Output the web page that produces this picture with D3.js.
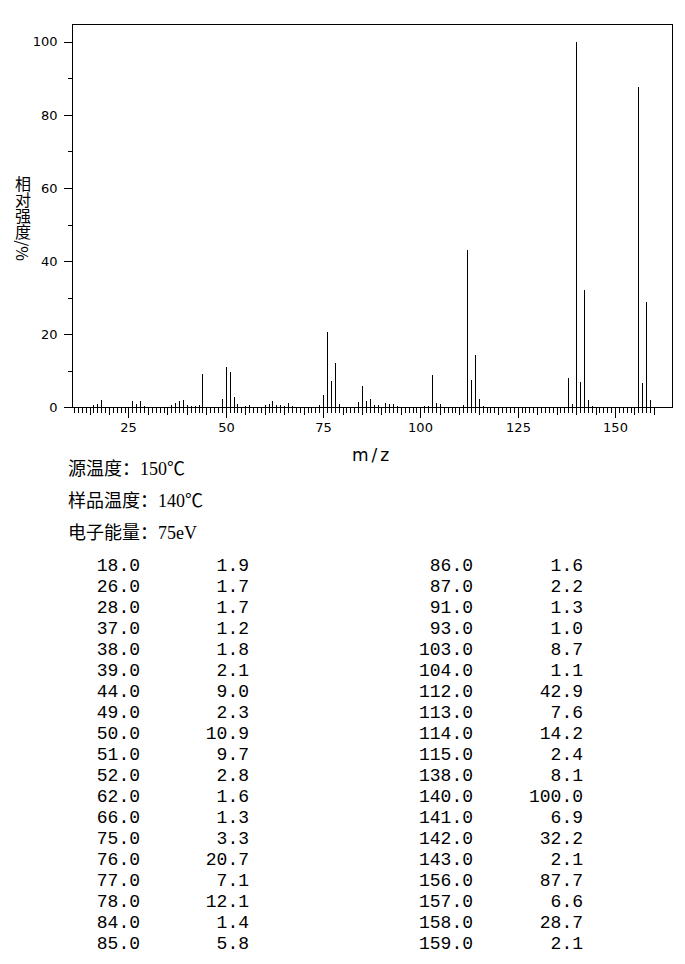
<!DOCTYPE html>
<html>
<head>
<meta charset="utf-8">
<script src="https://cdn.jsdelivr.net/npm/d3@7/dist/d3.min.js"></script>
<style>
  html, body { margin: 0; padding: 0; background: #fff; }
  svg { display: block; }
  .ytitle { writing-mode: vertical-rl; text-orientation: mixed; font-family: 'Noto Sans CJK SC'; font-size: 16px; line-height: 18px; color: #000; margin: 0; padding: 0; white-space: nowrap; }
</style>
</head>
<body>
<div id="chart"></div>
<script>
// ---- Data ----
// Listed peaks (m/z, relative intensity %) from the table
const tableMz = [18,26,28,37,38,39,44,49,50,51,52,62,66,75,76,77,78,84,85,
                 86,87,91,93,103,104,112,113,114,115,138,140,141,142,143,156,157,158,159];
const tableIntensity = [1.9,1.7,1.7,1.2,1.8,2.1,9.0,2.3,10.9,9.7,2.8,1.6,1.3,3.3,20.7,7.1,12.1,1.4,5.8,
                 1.6,2.2,1.3,1.0,8.7,1.1,42.9,7.6,14.2,2.4,8.1,100.0,6.9,32.2,2.1,87.7,6.6,28.7,2.1];
// Minor peaks visible in the plot but below the table threshold (estimated)
const minorMz = [16,17,27,29,36,40,41,42,43,53,55,56,60,61,63,64,65,67,74,79,88,89,92,94,101,102,105,111,116,139,144];
const minorIntensity = [0.6,0.8,0.9,0.3,0.6,0.7,0.4,0.3,0.7,0.9,0.4,0.5,0.5,0.8,0.7,0.6,0.4,0.4,0.6,0.8,0.7,0.6,0.9,0.3,0.3,0.4,0.9,0.5,0.4,0.9,0.4];

const yTicks = [0,20,40,60,80,100];
const yMinorTicks = [10,30,50,70,90];
const xTickLabels = [25,50,75,100,125,150];
const infoLines = ["源温度：150℃", "样品温度：140℃", "电子能量：75eV"];
const yTitle = "相对强度/%";

// ---- Layout ----
const W = 685, H = 964;
const svg = d3.select("#chart").append("svg").attr("width", W).attr("height", H);

const plot = {left: 71.5, right: 672, top: 23.5, bottom: 407.3};
const x = d3.scaleLinear().domain([10.36, 164.65]).range([plot.left, plot.right]);
const y = d3.scaleLinear().domain([0, 105]).range([plot.bottom, plot.top]);
const px = v => Math.round(x(v)) + 0.5;
const py = v => Math.round(y(v)) + 0.5;

const g = svg.append("g").attr("shape-rendering", "crispEdges");

// peaks
const peaks = tableMz.map((m, i) => ({mz: m, v: tableIntensity[i]}))
  .concat(minorMz.map((m, i) => ({mz: m, v: minorIntensity[i]})));
g.selectAll("line.peak").data(peaks).enter().append("line")
  .attr("class", "peak")
  .attr("x1", d => px(d.mz)).attr("x2", d => px(d.mz))
  .attr("y1", py(0)).attr("y2", d => Math.round(y(d.v)))
  .attr("stroke", "#000").attr("stroke-width", 1);

// frame
g.append("rect")
  .attr("x", Math.round(plot.left) + 0.5).attr("y", Math.round(plot.top) + 0.5)
  .attr("width", Math.round(plot.right) - Math.round(plot.left))
  .attr("height", py(0) - Math.round(plot.top) - 0.5)
  .attr("fill", "none").attr("stroke", "#000").attr("stroke-width", 1);

// y axis ticks
const yAxis = d3.axisLeft(y).tickValues(yTicks).tickSize(9).tickSizeOuter(0).tickFormat(d3.format("d"));
const yAx = svg.append("g").attr("transform", `translate(${Math.round(plot.left) + 0.5},0)`).call(yAxis);
yAx.select(".domain").remove();
yAx.selectAll(".tick line").attr("shape-rendering", "crispEdges");
yAx.selectAll("text").attr("font-family", "DejaVu Sans").attr("font-size", 13).attr("fill", "#000").attr("x", -15);
const yMinor = d3.axisLeft(y).tickValues(yMinorTicks).tickSize(5).tickSizeOuter(0).tickFormat("");
const yMi = svg.append("g").attr("transform", `translate(${Math.round(plot.left) + 0.5},0)`).call(yMinor);
yMi.select(".domain").remove();
yMi.selectAll(".tick line").attr("shape-rendering", "crispEdges");

// x axis ticks: unit ticks, 5-unit ticks, labelled 25-unit ticks
const unitTicks = d3.range(11, 161).filter(v => v % 5 !== 0);
const fiveTicks = d3.range(15, 161, 5).filter(v => v % 25 !== 0);
const baseY = py(0);
const xa1 = svg.append("g").attr("transform", `translate(0,${baseY})`)
  .call(d3.axisBottom(x).tickValues(unitTicks).tickSize(5).tickSizeOuter(0).tickFormat(""));
const xa2 = svg.append("g").attr("transform", `translate(0,${baseY})`)
  .call(d3.axisBottom(x).tickValues(fiveTicks).tickSize(7).tickSizeOuter(0).tickFormat(""));
const xa3 = svg.append("g").attr("transform", `translate(0,${baseY})`)
  .call(d3.axisBottom(x).tickValues(xTickLabels).tickSize(10).tickSizeOuter(0).tickFormat(d3.format("d")));
[xa1, xa2, xa3].forEach(a => {
  a.select(".domain").remove();
  a.selectAll(".tick").attr("transform", d => `translate(${px(d)},0)`);
  a.selectAll(".tick line").attr("shape-rendering", "crispEdges");
});
xa3.selectAll("text").attr("font-family", "DejaVu Sans").attr("font-size", 13).attr("fill", "#000").attr("y", 15);

// axis titles
svg.append("text").attr("x", 372).attr("y", 461)
  .attr("text-anchor", "middle").attr("font-family", "DejaVu Sans").attr("font-size", 17)
  .attr("letter-spacing", 3).text("m/z");

// vertical y title (HTML vertical writing: CJK upright, "/%" sideways)
svg.append("foreignObject")
  .attr("x", 14).attr("y", 176).attr("width", 19).attr("height", 100)
  .append("xhtml:div").attr("class", "ytitle").text(yTitle);

// info lines
svg.selectAll("text.info").data(infoLines).enter().append("text")
  .attr("class", "info")
  .attr("x", 68).attr("y", (d, i) => 469 + i * 32)
  .attr("dominant-baseline", "central")
  .attr("font-family", "'Liberation Serif', 'Noto Sans CJK SC'").attr("font-size", 18)
  .text(d => d);

// table
const half = Math.ceil(tableMz.length / 2);
const colRight = [140, 249, 473, 583];
const rowY = i => 566 + i * 21;
const tbl = svg.append("g").attr("font-family", "'Liberation Mono'").attr("font-size", 18)
  .attr("text-anchor", "end");
tableMz.forEach((m, i) => {
  const col = i < half ? 0 : 2;
  const r = i < half ? i : i - half;
  tbl.append("text").attr("x", colRight[col]).attr("y", rowY(r)).attr("dominant-baseline", "central").text(m.toFixed(1));
  tbl.append("text").attr("x", colRight[col + 1]).attr("y", rowY(r)).attr("dominant-baseline", "central").text(tableIntensity[i].toFixed(1));
});
</script>
</body>
</html>
